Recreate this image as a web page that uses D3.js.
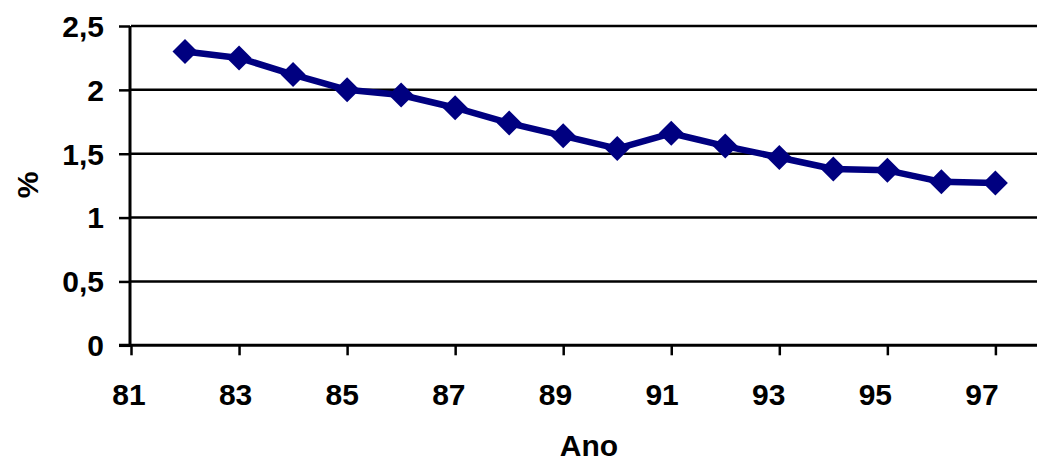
<!DOCTYPE html>
<html>
<head>
<meta charset="utf-8">
<script src="https://cdn.jsdelivr.net/npm/d3@7"></script>
<style>
  html, body { margin: 0; padding: 0; background: #fff; }
  svg { display: block; }
  text { font-family: "Liberation Sans", Arial, sans-serif; font-weight: bold; fill: #000; }
</style>
</head>
<body>
<svg id="chart" width="1037" height="464"></svg>
<script>
// Annual rate (%), 1982–1997
const years = [82, 83, 84, 85, 86, 87, 88, 89, 90, 91, 92, 93, 94, 95, 96, 97];
const values = [2.30, 2.25, 2.12, 2.00, 1.96, 1.86, 1.74, 1.64, 1.54, 1.66, 1.56, 1.47, 1.38, 1.37, 1.28, 1.27];
const xTickValues = [81, 83, 85, 87, 89, 91, 93, 95, 97];
const yTickValues = [0, 0.5, 1, 1.5, 2, 2.5];
const xTitle = "Ano";
const yTitle = "%";

const plot = { left: 131, right: 1037, top: 26, bottom: 345.3 };
const fontSize = "30px";

const svg = d3.select("#chart");

const x = d3.scaleLinear().domain([81, 97.77]).range([plot.left, plot.right]);
const y = d3.scaleLinear().domain([0, 2.5]).range([plot.bottom, plot.top]);
// tick labels sit on a slightly tighter spacing than the tick marks
const xLabel = d3.scaleLinear().domain([81, 97]).range([129, 982]);

const fmt = v => String(v).replace(".", ",");

// horizontal gridlines
svg.append("g")
  .selectAll("line")
  .data(yTickValues.filter(v => v > 0))
  .join("line")
  .attr("x1", plot.left).attr("x2", plot.right)
  .attr("y1", d => y(d)).attr("y2", d => y(d))
  .attr("stroke", "#000").attr("stroke-width", 2.5);

// y axis
const yAxis = svg.append("g")
  .attr("transform", `translate(${plot.left - 1},0)`)
  .call(d3.axisLeft(y).tickValues(yTickValues).tickSize(11).tickPadding(0).tickFormat(() => ""));
yAxis.select(".domain").attr("stroke", "#000").attr("stroke-width", 3)
  .attr("d", `M0,${plot.top}V${plot.bottom + 1.5}`);
yAxis.selectAll(".tick line").attr("stroke", "#000").attr("stroke-width", 2.5);

svg.append("g")
  .selectAll("text")
  .data(yTickValues)
  .join("text")
  .attr("x", 104)
  .attr("y", d => y(d))
  .attr("dy", "0.36em")
  .attr("text-anchor", "end")
  .style("font-size", fontSize)
  .text(fmt);

// x axis
const xAxis = svg.append("g")
  .attr("transform", `translate(0,${plot.bottom})`)
  .call(d3.axisBottom(x).tickValues(xTickValues).tickSize(10).tickFormat(() => ""));
xAxis.select(".domain").attr("stroke", "#000").attr("stroke-width", 3)
  .attr("d", `M${plot.left - 12},0H${plot.right}`);
xAxis.selectAll(".tick line").attr("stroke", "#000").attr("stroke-width", 2.5);

svg.append("g")
  .selectAll("text")
  .data(xTickValues)
  .join("text")
  .attr("x", d => xLabel(d))
  .attr("y", 405)
  .attr("text-anchor", "middle")
  .style("font-size", fontSize)
  .text(d => d);

// axis titles
svg.append("text")
  .attr("x", 589).attr("y", 456)
  .attr("text-anchor", "middle")
  .style("font-size", fontSize)
  .text(xTitle);

svg.append("text")
  .attr("transform", "translate(38,185) rotate(-90)")
  .attr("text-anchor", "middle")
  .style("font-size", fontSize)
  .text(yTitle);

// series line
const pts = years.map((yr, i) => [yr, values[i]]);
svg.append("path")
  .datum(pts)
  .attr("fill", "none")
  .attr("stroke", "#000080")
  .attr("stroke-width", 6.5)
  .attr("stroke-linejoin", "round")
  .attr("d", d3.line().x(d => x(d[0])).y(d => y(d[1])));

// diamond markers
const r = 12.5;
svg.append("g")
  .selectAll("path")
  .data(pts)
  .join("path")
  .attr("transform", d => `translate(${x(d[0])},${y(d[1])})`)
  .attr("d", `M0,${-r}L${r},0L0,${r}L${-r},0Z`)
  .attr("fill", "#000080");
</script>
</body>
</html>
